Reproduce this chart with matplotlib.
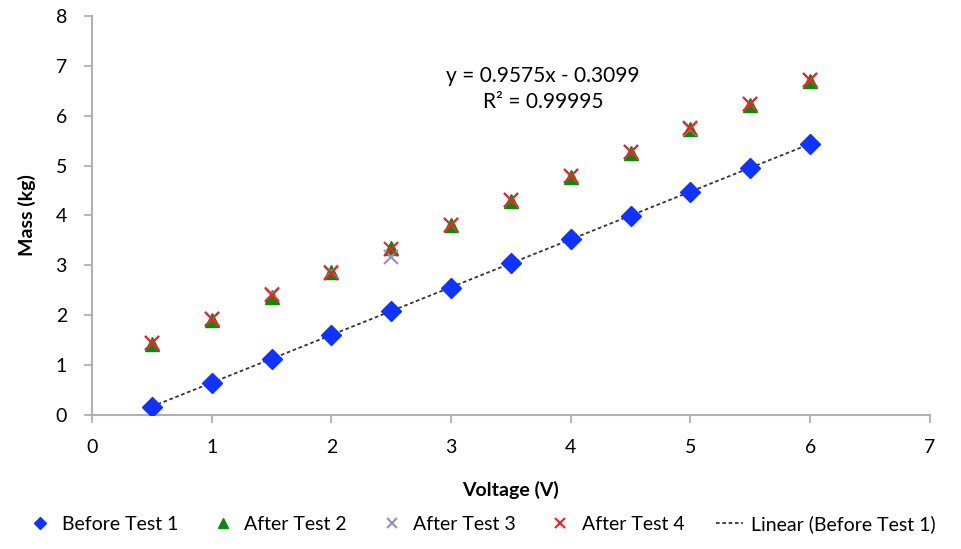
import matplotlib
matplotlib.use("Agg")
import matplotlib.pyplot as plt
import numpy as np

plt.rcParams['font.family'] = ['Lato', 'DejaVu Sans']

voltage = [0.5, 1, 1.5, 2, 2.5, 3, 3.5, 4, 4.5, 5, 5.5, 6]
before_test1 = [0.17, 0.64, 1.13, 1.60, 2.09, 2.55, 3.04, 3.53, 3.99, 4.48, 4.96, 5.43]
after_test2 = [1.43, 1.90, 2.37, 2.86, 3.34, 3.81, 4.30, 4.78, 5.26, 5.73, 6.22, 6.69]
after_test3 = [1.44, 1.92, 2.42, 2.86, 3.17, 3.80, 4.31, 4.79, 5.27, 5.74, 6.24, 6.72]
after_test4 = [1.45, 1.92, 2.40, 2.85, 3.33, 3.80, 4.32, 4.80, 5.28, 5.75, 6.24, 6.72]
fit_slope = 0.9575
fit_intercept = -0.3099
r2 = 0.99995

fig = plt.figure(figsize=(9.62, 5.49), dpi=100)
ax = fig.add_axes([0.0956, 0.244, 0.871, 0.727])

v = np.array(voltage)
fit_line = fit_slope * v + fit_intercept
ax.plot(v, fit_line, linestyle=(0, (2, 1.5)), color='#333333', lw=1.3, zorder=1,
        label='Linear (Before Test 1)')
ax.plot(voltage, before_test1, linestyle='none', marker='D', ms=10, color='#1133ff',
        zorder=3, label='Before Test 1')
ax.plot(voltage, after_test2, linestyle='none', marker='^', ms=10, color='#0a8a0a',
        zorder=3, label='After Test 2')
ax.plot(voltage, after_test3, linestyle='none', marker='x', ms=10, mew=1.5, color='#9a8fc0',
        zorder=4, label='After Test 3')
ax.plot(voltage, after_test4, linestyle='none', marker='x', ms=10, mew=1.5, color='#ee2222',
        zorder=5, label='After Test 4')

ax.set_xlim(0, 7)
ax.set_ylim(0, 8)
ax.set_xticks(range(0, 8))
ax.set_yticks(range(0, 9))
for s in ['top', 'right']:
    ax.spines[s].set_visible(False)
for s in ['left', 'bottom']:
    ax.spines[s].set_color('#b0b0b0')
    ax.spines[s].set_linewidth(1.5)
ax.tick_params(direction='out', length=6, width=1.3, color='#b0b0b0', labelsize=14)
ax.tick_params(axis='y', pad=12)
ax.tick_params(axis='x', pad=11)
ax.set_xlabel('Voltage (V)', fontsize=14, fontweight='bold', labelpad=18)
ax.set_ylabel('Mass (kg)', fontsize=14, fontweight='bold', labelpad=14)

ax.text(3.77, 6.53, f'y = {fit_slope}x - {abs(fit_intercept)}\nR² = {r2}',
        ha='center', va='center', fontsize=15, linespacing=1.35)

handles, labels = ax.get_legend_handles_labels()
order = [1, 2, 3, 4, 0]
fig.legend([handles[i] for i in order], [labels[i] for i in order],
           loc='center', bbox_to_anchor=(0.5, 0.045), ncol=5, frameon=False,
           fontsize=14, handlelength=1.4, handletextpad=0.4, columnspacing=1.6,
           markerscale=0.65)

fig.savefig('out.png', dpi=100)
